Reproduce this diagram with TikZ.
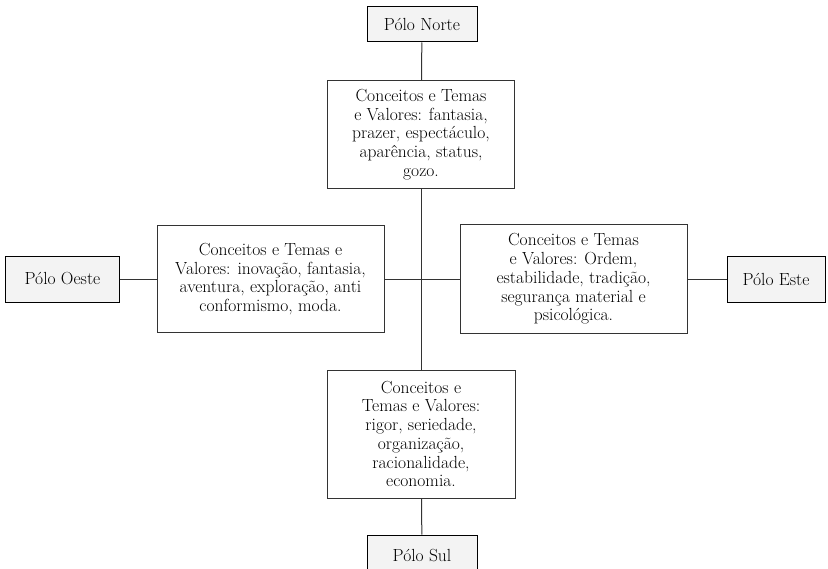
\documentclass[tikz,border=0pt]{standalone}
\usepackage{fontspec}
\usepackage{xcolor}
\usepackage{tikz}
\usetikzlibrary{positioning}
\definecolor{poleFill}{HTML}{F3F3F3}
\definecolor{edgeGray}{HTML}{333333}

\begin{document}
\begin{tikzpicture}[
    x=1bp, y=-1bp,
    pole/.style={draw=black, line width=1bp, fill=poleFill, inner sep=0pt, align=center, font=\fontsize{17.6}{19}\selectfont},
    concept/.style={draw=edgeGray, line width=1bp, fill=white, inner sep=0pt, align=center, font=\fontsize{17.6}{18.8}\selectfont},
    link/.style={draw=edgeGray, line width=1bp}
]
    \useasboundingbox (0,0) rectangle (828,569);

    % Central concept boxes
    \node[concept, minimum width=187bp, minimum height=107bp] (cnorte) at (421,134.5)
        {Conceitos e Temas\\e Valores: fantasia,\\prazer, espectáculo,\\aparência, status,\\gozo.};
    \node[concept, minimum width=227bp, minimum height=107bp] (coeste) at (270.5,279)
        {Conceitos e Temas e\\Valores: inovação, fantasia,\\aventura, exploração, anti\\conformismo, moda.};
    \node[concept, minimum width=227bp, minimum height=109bp] (ceste) at (573.5,279)
        {Conceitos e Temas\\e Valores: Ordem,\\estabilidade, tradição,\\segurança material e\\psicológica.};
    \node[concept, minimum width=188bp, minimum height=128bp] (csul) at (421,434)
        {Conceitos e\\Temas e Valores:\\rigor, seriedade,\\organização,\\racionalidade,\\economia.};

    % Poles
    \node[pole, minimum width=110bp, minimum height=35bp] (norte) at (422,24.5) {Pólo Norte};
    \node[pole, minimum width=113bp, minimum height=46bp] (oeste) at (62.5,279) {Pólo Oeste};
    \node[pole, minimum width=98bp, minimum height=46bp] (este) at (776,279) {Pólo Este};
    \node[pole, minimum width=110bp, minimum height=42bp] (sul) at (422,556) {Pólo Sul};

    % Axes
    \draw[link] (norte) -- (cnorte);
    \draw[link] (cnorte) -- (csul);
    \draw[link] (csul) -- (sul);
    \draw[link] (oeste) -- (coeste);
    \draw[link] (coeste) -- (ceste);
    \draw[link] (ceste) -- (este);
\end{tikzpicture}
\end{document}
